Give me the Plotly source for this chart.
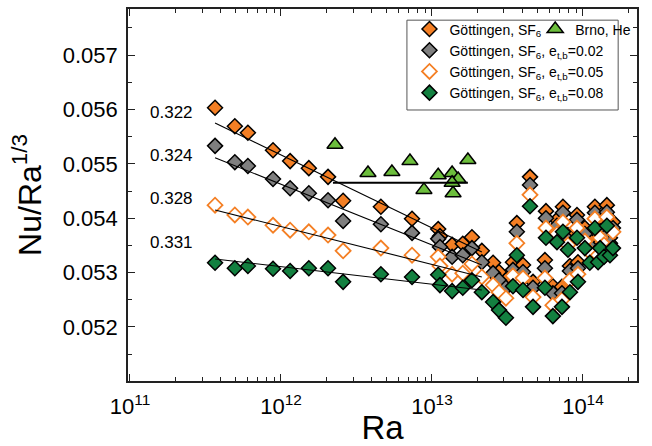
import math
import plotly.graph_objects as go

# ---------------- data ----------------
ra_gott = [3.66e11, 4.95e11, 6.04e11, 8.86e11, 1.15e12, 1.53e12, 2.05e12, 2.58e12,
           4.59e12, 7.38e12, 1.10e13, 1.13e13, 1.36e13, 1.60e13, 1.84e13, 2.14e13,
           2.54e13, 2.78e13, 3.09e13, 3.44e13, 3.65e13, 4.01e13, 4.46e13, 4.67e13,
           5.60e13, 5.69e13, 6.32e13, 6.73e13, 7.26e13, 7.37e13, 7.96e13, 8.20e13,
           9.13e13, 9.27e13, 1.03e14, 1.11e14, 1.20e14, 1.26e14, 1.30e14, 1.38e14,
           1.44e14, 1.51e14, 1.58e14]
nu_sf6 = [0.05603, 0.05569, 0.05557, 0.05525, 0.05505, 0.05492, 0.05476, 0.05432,
          0.05421, 0.05399, 0.05380, 0.05367, 0.05351, 0.05353, 0.05365, 0.05340,
          0.05318, 0.05301, 0.05286, 0.05319, 0.05391, 0.05314, 0.05476, 0.05283,
          0.05323, 0.05413, 0.05275, 0.05397, 0.05274, 0.05421, 0.05369, 0.05312,
          0.05406, 0.05319, 0.05382, 0.05360, 0.05421, 0.05351, 0.05387, 0.05375,
          0.05424, 0.05364, 0.05393]
nu_e002 = [0.05533, 0.05503, 0.05496, 0.05472, 0.05455, 0.05446, 0.05433, 0.05395,
           0.05389, 0.05373, 0.05362, 0.05347, 0.05329, 0.05332, 0.05345, 0.05319,
           0.05299, 0.05286, 0.05272, 0.05305, 0.05375, 0.05301, 0.05461, 0.05272,
           0.05308, 0.05400, 0.05262, 0.05386, 0.05262, 0.05410, 0.05360, 0.05303,
           0.05397, 0.05308, 0.05371, 0.05349, 0.05410, 0.05342, 0.05376, 0.05364,
           0.05411, 0.05354, 0.05382]
nu_e005 = [0.05424, 0.05406, 0.05402, 0.05387, 0.05378, 0.05375, 0.05369, 0.05340,
           0.05345, 0.05332, 0.05329, 0.05312, 0.05297, 0.05299, 0.05316, 0.05292,
           0.05277, 0.05264, 0.05253, 0.05294, 0.05354, 0.05290, 0.05443, 0.05255,
           0.05290, 0.05382, 0.05240, 0.05371, 0.05250, 0.05393, 0.05351, 0.05286,
           0.05382, 0.05297, 0.05358, 0.05338, 0.05399, 0.05332, 0.05364, 0.05351,
           0.05402, 0.05342, 0.05375]
nu_e008 = [0.05318, 0.05308, 0.05312, 0.05307, 0.05303, 0.05308, 0.05308, 0.05283,
           0.05297, 0.05292, 0.05296, 0.05277, 0.05266, 0.05272, 0.05286, 0.05264,
           0.05246, 0.05231, 0.05217, 0.05275, 0.05332, 0.05268, 0.05422, 0.05237,
           0.05272, 0.05364, 0.05220, 0.05356, 0.05237, 0.05375, 0.05342, 0.05264,
           0.05364, 0.05283, 0.05345, 0.05318, 0.05382, 0.05319, 0.05345, 0.05329,
           0.05386, 0.05332, 0.05345]

ra_brno = [2.28e12, 3.77e12, 5.43e12, 7.15e12, 8.85e12, 1.10e13, 1.36e13, 1.49e13,
           1.38e13, 1.36e13, 1.73e13]
nu_brno = [0.05535, 0.05483, 0.05485, 0.05505, 0.05452, 0.05479, 0.05483, 0.05472,
           0.05446, 0.05465, 0.05507]

# fit lines (end points)
fit_ra = [3.66e11, 2.14e13]
fit_sf6 = [0.05575, 0.05338]
fit_e002 = [0.05511, 0.05314]
fit_e005 = [0.05415, 0.05292]
fit_e008 = [0.05325, 0.05268]
fit_brno_ra = [2.21e12, 1.73e13]
fit_brno = [0.05465, 0.05465]

exp_labels = ["0.322", "0.324", "0.328", "0.331"]
exp_label_y = [0.05595, 0.05516, 0.05437, 0.05356]
exp_label_ra = 1.87e11

names = ["Göttingen, SF<sub>6</sub>",
         "Göttingen, SF<sub>6</sub>, e<sub>t,b</sub>=0.02",
         "Göttingen, SF<sub>6</sub>, e<sub>t,b</sub>=0.05",
         "Göttingen, SF<sub>6</sub>, e<sub>t,b</sub>=0.08",
         "Brno, He"]

ORANGE = "#F47F24"
GRAY = "#7F7F7F"
DGREEN = "#138040"
LGREEN = "#6CBE3C"
FONT = "Liberation Sans, Arial, sans-serif"

fig = go.Figure()

def dia(y, name, fill, line, lw):
    fig.add_trace(go.Scatter(
        x=ra_gott, y=y, mode="markers", name=name, legend="legend",
        marker=dict(symbol="diamond", size=11.5, color=fill,
                    line=dict(color=line, width=lw))))

dia(nu_sf6, names[0], ORANGE, "black", 1.5)
dia(nu_e002, names[1], GRAY, "black", 1.5)
dia(nu_e005, names[2], "white", ORANGE, 1.8)
dia(nu_e008, names[3], DGREEN, "black", 1.5)

fig.add_trace(go.Scatter(
    x=ra_brno, y=nu_brno, mode="markers", name=names[4], legend="legend2",
    marker=dict(symbol="triangle-up", size=14, color=LGREEN,
                line=dict(color="black", width=1.5))))

for fy in (fit_sf6, fit_e002, fit_e005, fit_e008):
    fig.add_trace(go.Scatter(x=fit_ra, y=fy, mode="lines", showlegend=False,
                             line=dict(color="black", width=1.1)))
fig.add_trace(go.Scatter(x=fit_brno_ra, y=fit_brno, mode="lines", showlegend=False,
                         line=dict(color="black", width=2)))

for t, yv in zip(exp_labels, exp_label_y):
    fig.add_annotation(x=math.log10(exp_label_ra), y=yv, xref="x", yref="y",
                       text=t, showarrow=False, font=dict(size=17, color="black", family=FONT))

# legend frame
fig.add_shape(type="rect", xref="paper", yref="paper",
              x0=0.548, x1=0.963, y0=0.7285, y1=0.970,
              line=dict(color="#555", width=1), fillcolor="white", layer="below")

axis_common = dict(showline=True, linecolor="#222", linewidth=1.6, mirror="ticks",
                   ticks="inside", tickcolor="#222", tickwidth=1.3, ticklen=7,
                   showgrid=False, zeroline=False, automargin=False)

fig.update_xaxes(type="log", range=[10.987, 14.358],
                 tickvals=[1e11, 1e12, 1e13, 1e14],
                 ticktext=["10<sup>11</sup>", "10<sup>12</sup>", "10<sup>13</sup>", "10<sup>14</sup>"],
                 tickfont=dict(size=22, color="black", family=FONT),
                 ticklabelstandoff=5,
                 minor=dict(dtick="D1", ticks="inside", ticklen=4, tickcolor="#222", showgrid=False),
                 title=dict(text="Ra", font=dict(size=33, color="black", family=FONT), standoff=0),
                 **axis_common)
fig.update_yaxes(range=[0.051007, 0.057846], tick0=0.052, dtick=0.001, tickformat=".3f",
                 tickfont=dict(size=22, color="black", family=FONT),
                 minor=dict(dtick=0.0005, ticks="inside", ticklen=4, tickcolor="#222", showgrid=False),
                 ticklabelstandoff=4,
                 title=dict(text="Nu/Ra<sup>1/3</sup>", font=dict(size=32, color="black", family=FONT), standoff=12),
                 **axis_common)

fig.update_layout(
    width=652, height=446,
    margin=dict(l=128, r=15, t=9, b=65, autoexpand=False),
    paper_bgcolor="white", plot_bgcolor="white",
    font=dict(family=FONT, color="black"),
    legend=dict(x=0.553, y=0.988, xanchor="left", yanchor="top",
                bgcolor="rgba(0,0,0,0)", borderwidth=0,
                font=dict(size=14, family=FONT, color="black"), traceorder="normal"),
    legend2=dict(x=0.800, y=0.988, xanchor="left", yanchor="top",
                 bgcolor="rgba(0,0,0,0)", borderwidth=0,
                 font=dict(size=14, family=FONT, color="black")),
)

fig.write_html("out.html")
